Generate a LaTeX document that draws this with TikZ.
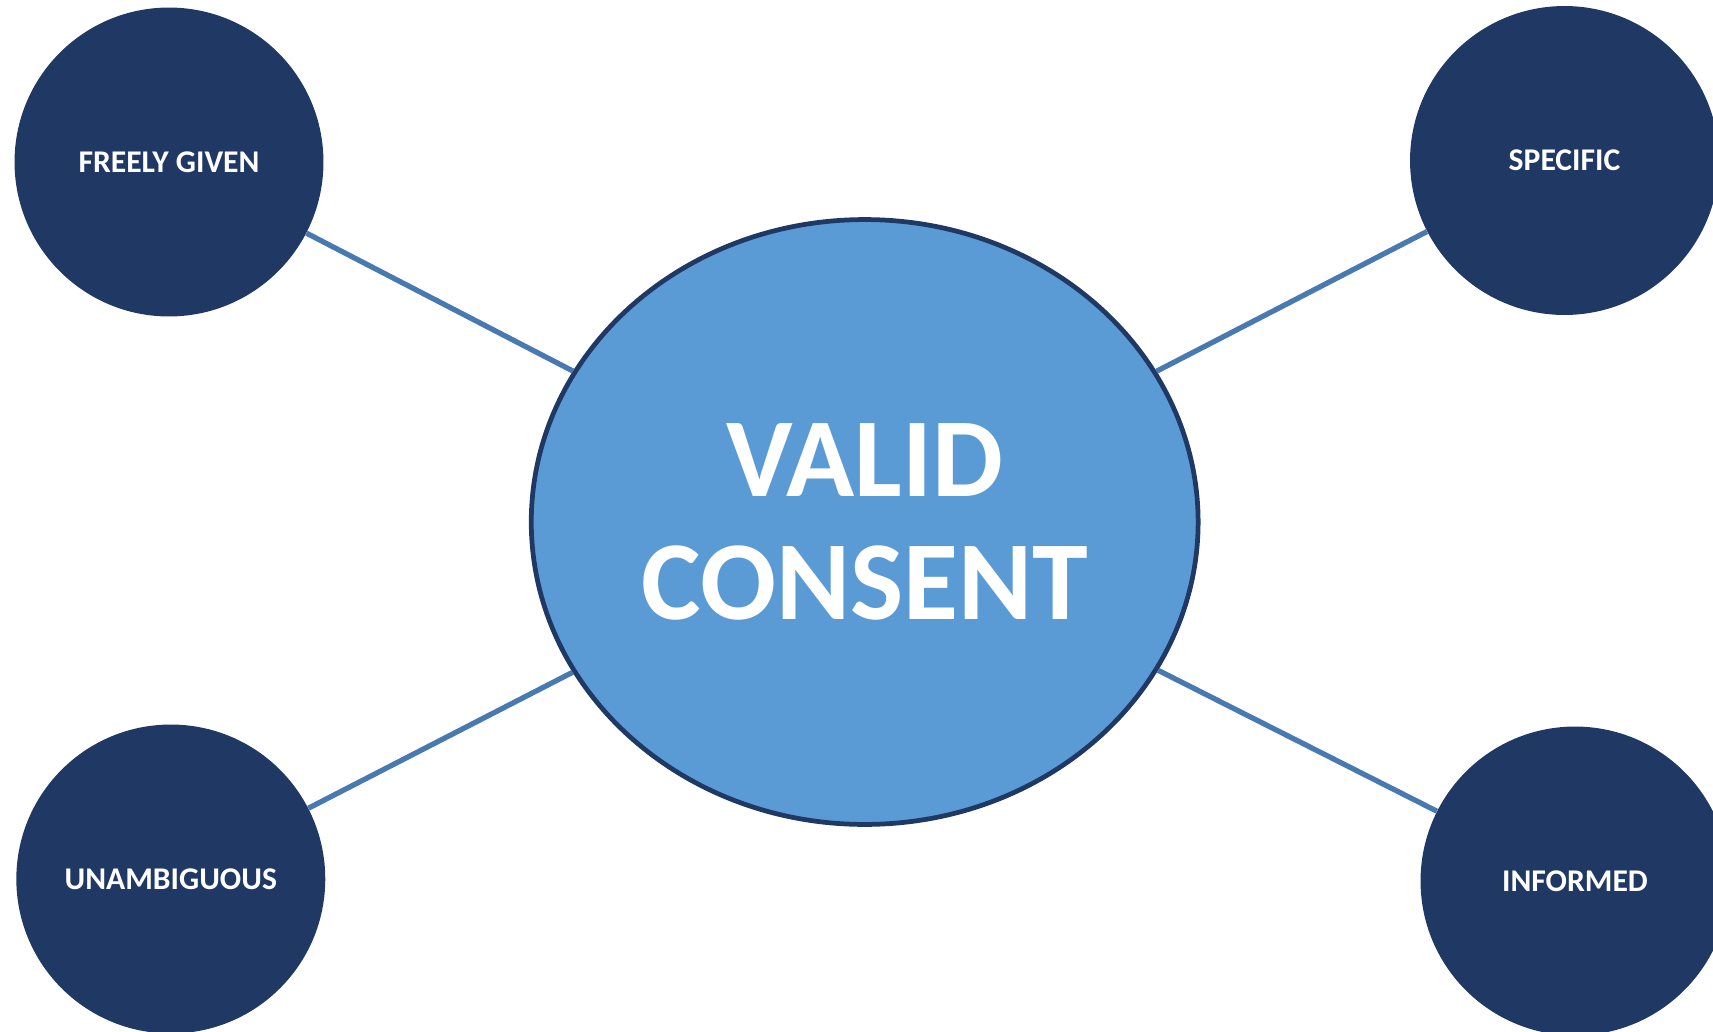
\documentclass[tikz,border=0pt]{standalone}
\usepackage{fontspec}
\setmainfont{Carlito}
\usepackage{tikz}
\usetikzlibrary{shapes.geometric, positioning}
\definecolor{vcNavy}{HTML}{203864}
\definecolor{vcSky}{HTML}{5B9BD5}
\definecolor{vcLink}{HTML}{4879B0}
\tikzset{
  vc-hub/.style={
    ellipse, draw=vcNavy, fill=vcSky, line width=2.7pt, inner sep=0pt,
    minimum width=13.34cm, minimum height=12.1cm, align=center,
    text=white, font=\fontsize{64}{70}\selectfont\bfseries
  },
  vc-item/.style={
    circle, fill=vcNavy, inner sep=0pt, minimum size=6.18cm,
    text=white, font=\fontsize{18}{22}\selectfont\bfseries
  },
  vc-link/.style={draw=vcLink, line width=3pt},
}
\begin{document}
\begin{tikzpicture}[x=0.02cm, y=-0.02cm]
  \useasboundingbox (0,0) rectangle (1713,1031);
  \clip (0,0) rectangle (1713,1031);

  \node[vc-hub]  (hub)  at (864.7,522)  {VALID\\CONSENT};
  \node[vc-item] (free) at (169,162)    {FREELY GIVEN};
  \node[vc-item] (spec) at (1564.5,160.5) {SPECIFIC};
  \node[vc-item] (unam) at (170.8,879)  {UNAMBIGUOUS};
  \node[vc-item] (info) at (1575,881)   {INFORMED};

  \draw[vc-link] (hub)--(free);
  \draw[vc-link] (hub)--(spec);
  \draw[vc-link] (hub)--(unam);
  \draw[vc-link] (hub)--(info);
\end{tikzpicture}
\end{document}
